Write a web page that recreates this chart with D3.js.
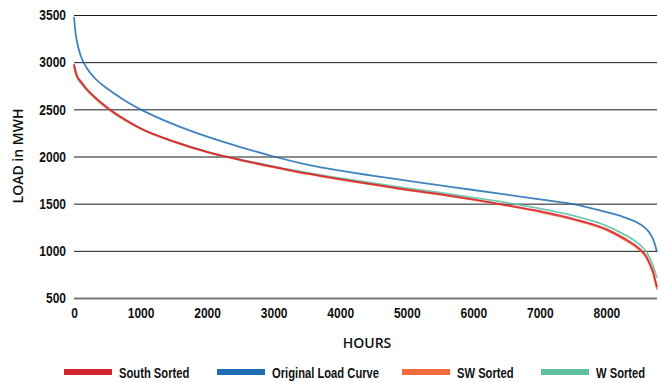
<!DOCTYPE html>
<html>
<head>
<meta charset="utf-8">
<script src="https://cdn.jsdelivr.net/npm/d3@7"></script>
<style>
	body { margin: 0; background: #fff; }
	.tick text { font-family: "Liberation Sans", Arial, sans-serif; font-weight: bold; font-size: 15px; fill: #111; }
	.legendText { font-family: "Liberation Sans", Arial, sans-serif; font-weight: bold; font-size: 14px; fill: #111; }
	.axisTitle { font-family: "Open Sans", sans-serif; font-weight: 600; font-size: 14px; fill: #111; }
</style>
</head>
<body>
<script>
//hours of the year where each curve was sampled (sorted load duration curves)
var hours = [0, 25, 50, 100, 200, 300, 500, 750, 1000, 1500, 2000, 2500, 3000, 3500, 4000, 4500, 5000,
	5500, 6000, 6500, 7000, 7500, 8000, 8250, 8500, 8600, 8650, 8700, 8730, 8760];

//series values in MWh
var original = [3480, 3300, 3200, 3070, 2930, 2840, 2720, 2600, 2500, 2340, 2210, 2100, 2000, 1915, 1850, 1795, 1745,
	1695, 1645, 1595, 1545, 1495, 1410, 1360, 1285, 1230, 1190, 1125, 1065, 985];
var south = [2980, 2900, 2850, 2800, 2710, 2640, 2520, 2400, 2300, 2160, 2050, 1965, 1890, 1820, 1760, 1705, 1650,
	1600, 1545, 1485, 1420, 1340, 1230, 1140, 1020, 940, 870, 780, 700, 615];
var swSorted = [2970, 2890, 2840, 2790, 2700, 2630, 2512, 2392, 2294, 2155, 2045, 1960, 1885, 1815, 1755, 1700, 1645,
	1595, 1540, 1480, 1412, 1330, 1218, 1125, 1005, 925, 850, 760, 680, 590];
var wSorted = [2960, 2880, 2830, 2780, 2695, 2628, 2510, 2392, 2295, 2158, 2050, 1968, 1895, 1828, 1770, 1718, 1665,
	1617, 1565, 1510, 1448, 1372, 1265, 1180, 1065, 990, 925, 845, 780, 715];

//tick labels
var xTicks = [0, 1000, 2000, 3000, 4000, 5000, 6000, 7000, 8000];
var yTicks = [500, 1000, 1500, 2000, 2500, 3000, 3500];

//legend entries
var legendNames = ["South Sorted", "Original Load Curve", "SW Sorted", "W Sorted"];
var legendColors = ["#d3222f", "#1f6db3", "#f26a3c", "#5dc0a0"];

var w = 661, h = 383;
var squeeze = 0.8; //no condensed font installed, so squeeze the bold one

//squeeze a text selection horizontally to mimic a condensed face
function condense(sel){
	sel.each(function(){
		var len = this.getComputedTextLength();
		d3.select(this)
			.attr("textLength", len * squeeze)
			.attr("lengthAdjust", "spacingAndGlyphs");
	});
}

var svg = d3.select("body")
	.append("svg")
	.attr("width", w)
	.attr("height", h)
	.attr("class", "svg");

//scales
var xScale = d3.scaleLinear()
	.range([74, 657])
	.domain([0, 8760]);

var yScale = d3.scaleLinear()
	.range([298, 15])
	.domain([500, 3500]);

//y axis doubles as horizontal grid lines
var yAxis = d3.axisLeft(yScale)
	.tickValues(yTicks)
	.tickFormat(d3.format("d"))
	.tickSizeInner(-(657 - 74))
	.tickSizeOuter(0)
	.tickPadding(8);

var yAxisG = svg.append("g")
	.attr("transform", "translate(74,0)")
	.attr("class", "yAxis")
	.call(yAxis);
yAxisG.select(".domain").remove();
yAxisG.selectAll(".tick line")
	.attr("stroke", function(d){ return d == 500 ? "#777" : "#1a1a1a"; })
	.attr("stroke-width", function(d){ return d == 500 ? 2 : 1; });
yAxisG.selectAll(".tick text").call(condense);

//x axis, labels only
var xAxis = d3.axisBottom(xScale)
	.tickValues(xTicks)
	.tickFormat(d3.format("d"))
	.tickSize(0)
	.tickPadding(9);

var xAxisG = svg.append("g")
	.attr("transform", "translate(0,298)")
	.attr("class", "xAxis")
	.call(xAxis);
xAxisG.select(".domain").remove();
xAxisG.selectAll(".tick text").call(condense);

//lines, drawn back to front
var line = d3.line()
	.x(function(d, i){ return xScale(hours[i]); })
	.y(function(d){ return yScale(d); })
	.curve(d3.curveMonotoneX);

var seriesList = [
	{ values: wSorted, color: legendColors[3] },
	{ values: swSorted, color: legendColors[2] },
	{ values: south, color: legendColors[0] },
	{ values: original, color: legendColors[1] }
];

svg.selectAll(".series")
	.data(seriesList)
	.enter()
	.append("path")
	.attr("class", "series")
	.attr("d", function(d){ return line(d.values); })
	.attr("fill", "none")
	.attr("stroke", function(d){ return d.color; })
	.attr("stroke-width", 1.8)
	.attr("stroke-opacity", 0.85);

//axis titles
svg.append("text")
	.attr("class", "axisTitle")
	.attr("text-anchor", "middle")
	.attr("transform", "translate(23,156) rotate(-90)")
	.text("LOAD in MWH");

svg.append("text")
	.attr("class", "axisTitle")
	.attr("text-anchor", "middle")
	.attr("x", 367)
	.attr("y", 348)
	.text("HOURS");

//legend
var legendX = [64, 217, 402, 541];

var legend = svg.selectAll(".legendItem")
	.data(legendNames)
	.enter()
	.append("g")
	.attr("class", "legendItem")
	.attr("transform", function(d, i){ return "translate(" + legendX[i] + ",372)"; });

legend.append("rect")
	.attr("x", 0)
	.attr("y", -3)
	.attr("width", 48)
	.attr("height", 6)
	.attr("fill", function(d, i){ return legendColors[i]; });

legend.append("text")
	.attr("class", "legendText")
	.attr("x", 55)
	.attr("y", 6)
	.text(function(d){ return d; })
	.call(condense);
</script>
</body>
</html>
